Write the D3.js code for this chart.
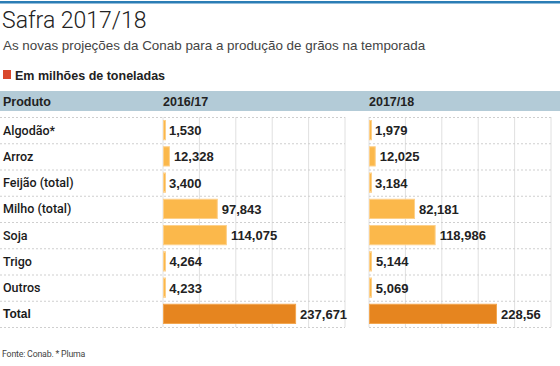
<!DOCTYPE html>
<html>
<head>
<meta charset="utf-8">
<script src="https://cdn.jsdelivr.net/npm/d3@7"></script>
<style>
  body { margin: 0; background: #fff; }
  svg text { font-family: "Liberation Sans", Arial, sans-serif; fill: #222; }
</style>
</head>
<body>
<div id="chart"></div>
<script>
// Chart data
const produtos = ['Algodão*', 'Arroz', 'Feijão (total)', 'Milho (total)', 'Soja', 'Trigo', 'Outros', 'Total'];
const safra1617 = [1.530, 12.328, 3.400, 97.843, 114.075, 4.264, 4.233, 237.671];
const safra1718 = [1.979, 12.025, 3.184, 82.181, 118.986, 5.144, 5.069, 228.56];
const labels1617 = ['1,530', '12,328', '3,400', '97,843', '114,075', '4,264', '4,233', '237,671'];
const labels1718 = ['1,979', '12,025', '3,184', '82,181', '118,986', '5,144', '5,069', '228,56'];
const seasons = ['2016/17', '2017/18'];

const width = 560, height = 366;

const svg = d3.select('#chart').append('svg')
    .attr('width', width)
    .attr('height', height);

// top rule
svg.append('rect')
    .attr('x', 0).attr('y', 1)
    .attr('width', width).attr('height', 2.5)
    .attr('fill', '#2b7db5');

svg.append('text')
    .attr('x', 2).attr('y', 28)
    .attr('font-size', 23)
    .style('font-family', 'Roboto, sans-serif')
    .attr('font-weight', 300)
    .text('Safra 2017/18');

svg.append('text')
    .attr('x', 3).attr('y', 50)
    .attr('font-size', 13.4)
    .style('fill', '#444')
    .text('As novas projeções da Conab para a produção de grãos na temporada');

// legend
svg.append('rect')
    .attr('x', 3).attr('y', 70)
    .attr('width', 8).attr('height', 9)
    .attr('fill', '#d9472b');

svg.append('text')
    .attr('x', 15).attr('y', 79.5)
    .attr('font-size', 12.5)
    .attr('font-weight', 'bold')
    .text('Em milhões de toneladas');

// header band
svg.append('rect')
    .attr('x', 0).attr('y', 91)
    .attr('width', width).attr('height', 20)
    .attr('fill', '#b3cbd7');

svg.append('text')
    .attr('x', 3).attr('y', 106)
    .attr('font-size', 12.5)
    .attr('font-weight', 'bold')
    .text('Produto');

// scales
const y = d3.scaleBand()
    .domain(produtos)
    .range([117, 327]);

const x = d3.scaleLinear()
    .domain([0, 325])
    .range([0, 182]);

const panels = [
    { x0: 163, values: safra1617, labels: labels1617, season: seasons[0] },
    { x0: 369, values: safra1718, labels: labels1718, season: seasons[1] }
];

// row labels
svg.selectAll('.rowlabel')
    .data(produtos)
    .enter().append('text')
    .attr('class', 'rowlabel')
    .attr('x', 3)
    .attr('y', d => y(d) + y.bandwidth() / 2 + 4.5)
    .attr('font-size', d => d === 'Total' ? 12 : 12.5)
    .style('font-family', d => d === 'Total' ? null : 'Roboto, sans-serif')
    .attr('font-weight', d => d === 'Total' ? 'bold' : 500)
    .style('fill', '#1a1a1a')
    .text(d => d);

// left dotted separators start at the page edge
const sepYs = [y.range()[0]].concat(produtos.map(d => y(d) + y.bandwidth()));

panels.forEach((p, i) => {
    const g = svg.append('g').attr('transform', `translate(${p.x0},0)`);

    g.append('text')
        .attr('x', 0).attr('y', 106)
        .attr('font-size', 12.5)
        .attr('font-weight', 'bold')
        .text(p.season);

    // vertical gridlines
    g.selectAll('.grid')
        .data(d3.range(0, 326, 65))
        .enter().append('line')
        .attr('x1', d => x(d)).attr('x2', d => x(d))
        .attr('y1', y.range()[0]).attr('y2', y.range()[1])
        .attr('stroke', '#e0e0e0')
        .attr('stroke-width', 1);

    // dotted row separators
    const sx0 = i === 0 ? -p.x0 : 0;
    g.selectAll('.sep')
        .data(sepYs)
        .enter().append('line')
        .attr('x1', sx0).attr('x2', x(325))
        .attr('y1', d => d + 0.5).attr('y2', d => d + 0.5)
        .attr('stroke', '#cfcfcf')
        .attr('stroke-dasharray', '2,2');

    // bars
    g.selectAll('.bar')
        .data(p.values)
        .enter().append('rect')
        .attr('x', 0.5)
        .attr('y', (d, j) => y(produtos[j]) + 3.5)
        .attr('width', d => Math.max(2, x(d) - 1))
        .attr('height', y.bandwidth() - 7)
        .attr('fill', (d, j) => produtos[j] === 'Total' ? '#e6851f' : '#fbb84b')
        .attr('stroke', (d, j) => produtos[j] === 'Total' ? '#f2a650' : '#fdd08a')
        .attr('stroke-width', 1);

    // value labels
    g.selectAll('.val')
        .data(p.values)
        .enter().append('text')
        .attr('x', d => Math.max(2, x(d)) + 4)
        .attr('y', (d, j) => y(produtos[j]) + y.bandwidth() / 2 + 5)
        .attr('font-size', 13)
        .attr('font-weight', 'bold')
        .text((d, j) => p.labels[j]);
});

svg.append('text')
    .attr('x', 2).attr('y', 357)
    .attr('font-size', 8.8)
    .style('font-family', 'Roboto, sans-serif')
    .attr('letter-spacing', -0.2)
    .style('fill', '#444')
    .text('Fonte: Conab. * Pluma');
</script>
</body>
</html>
